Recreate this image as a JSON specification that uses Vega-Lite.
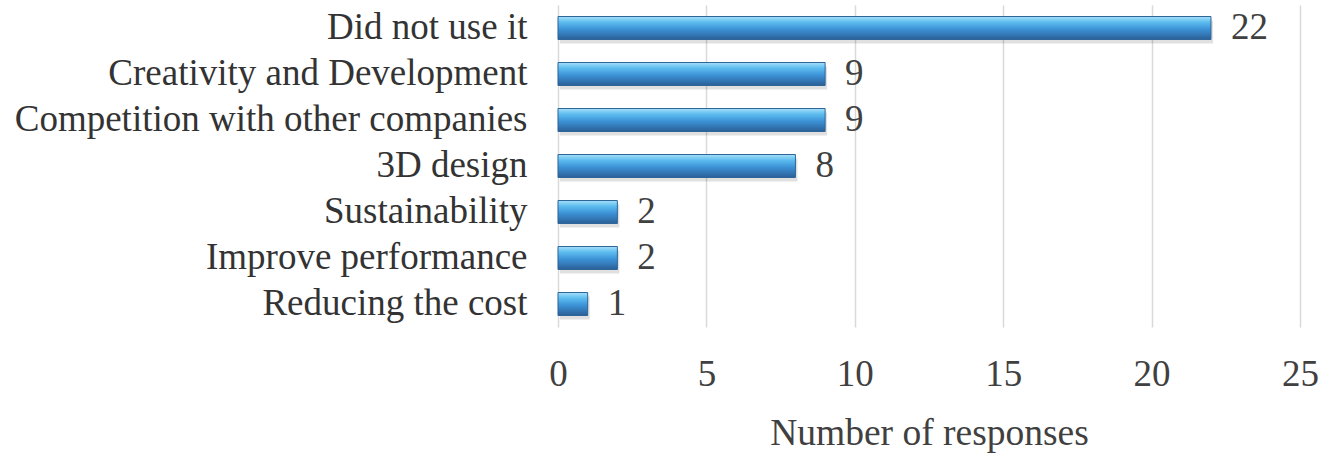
{
  "$schema": "https://vega.github.io/schema/vega-lite/v6.json",
  "autosize": {"type": "none"},
  "width": 742,
  "height": 322,
  "padding": {"left": 558, "top": 5, "right": 39, "bottom": 137},
  "background": "white",
  "config": {
    "view": {"stroke": null},
    "font": "Liberation Serif",
    "axis": {"labelFont": "Liberation Serif", "titleFont": "Liberation Serif"}
  },
  "data": {
    "values": [
      {"reason": "Did not use it", "count": 22},
      {"reason": "Creativity and Development", "count": 9},
      {"reason": "Competition with other companies", "count": 9},
      {"reason": "3D design", "count": 8},
      {"reason": "Sustainability", "count": 2},
      {"reason": "Improve performance", "count": 2},
      {"reason": "Reducing the cost", "count": 1}
    ]
  },
  "encoding": {
    "y": {
      "field": "reason",
      "type": "nominal",
      "sort": null,
      "scale": {"paddingInner": 0.5, "paddingOuter": 0.25},
      "axis": {
        "title": null,
        "domain": false,
        "ticks": false,
        "labelFontSize": 37,
        "labelColor": "#333333",
        "labelPadding": 31,
        "labelLimit": 600
      }
    },
    "x": {
      "field": "count",
      "type": "quantitative",
      "scale": {"domain": [0, 25], "nice": false},
      "axis": {
        "values": [0, 5, 10, 15, 20, 25],
        "title": "Number of responses",
        "titleFontSize": 37.5,
        "titleFontWeight": "normal",
        "titleColor": "#404040",
        "titlePadding": 22,
        "domain": false,
        "ticks": false,
        "labelFlush": false,
        "labelFontSize": 37,
        "labelColor": "#404040",
        "labelPadding": 29,
        "grid": true,
        "gridColor": "#d9d9d9",
        "gridWidth": 1.5
      }
    }
  },
  "layer": [
    {
      "mark": {"type": "bar", "color": "#000000", "opacity": 0.12, "yOffset": 4, "xOffset": 2},
      "encoding": {}
    },
    {
      "mark": {
        "type": "bar",
        "stroke": "#2f6597",
        "strokeWidth": 1,
        "color": {
          "gradient": "linear",
          "x1": 0, "y1": 0, "x2": 0, "y2": 1,
          "stops": [
            {"offset": 0, "color": "#a6e0fa"},
            {"offset": 0.25, "color": "#5cbcef"},
            {"offset": 0.55, "color": "#3c92d6"},
            {"offset": 1, "color": "#2b5f98"}
          ]
        }
      },
      "encoding": {}
    },
    {
      "mark": {"type": "text", "align": "left", "dx": 20, "fontSize": 37, "color": "#404040", "font": "Liberation Serif"},
      "encoding": {"text": {"field": "count", "type": "quantitative"}}
    }
  ]
}
